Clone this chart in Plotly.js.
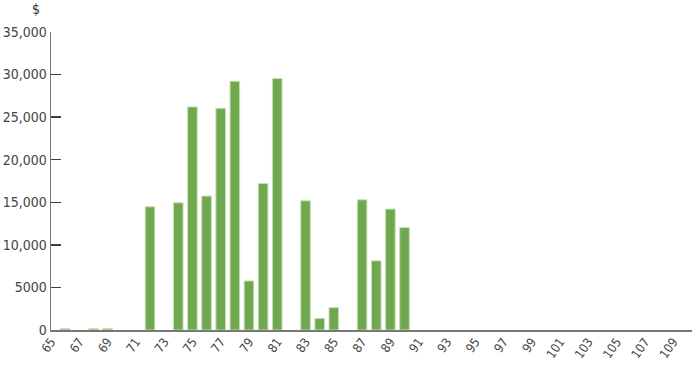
<!DOCTYPE html>
<html>
<head>
<meta charset="utf-8">
<script src="https://cdn.plot.ly/plotly-3.0.1.min.js"></script>
<style>html,body{margin:0;padding:0;background:#fff;}#chart{width:693px;height:365px;}</style>
</head>
<body>
<div id="chart"></div>
<script>
const ages = [66, 68, 69, 72, 74, 75, 76, 77, 78, 79, 80, 81, 83, 84, 85, 87, 88, 89, 90];
const amounts = [150, 150, 150, 14470, 14940, 26200, 15730, 26040, 29210, 5760, 17210, 29530, 15180, 1370, 2630, 15290, 8120, 14200, 12040];
const xTickVals = [65,67,69,71,73,75,77,79,81,83,85,87,89,91,93,95,97,99,101,103,105,107,109];
const yTickVals = [0, 5000, 10000, 15000, 20000, 25000, 30000, 35000];
const yTickText = ['0', '5000', '10,000', '15,000', '20,000', '25,000', '30,000', '35,000'];

const font = '"DejaVu Sans Condensed", "Liberation Sans", sans-serif';

Plotly.newPlot('chart', [{
  type: 'bar',
  x: ages,
  y: amounts,
  width: 0.68,
  marker: {color: '#70a84f', line: {color: '#c8e0b4', width: 1}},
  hoverinfo: 'x+y'
}], {
  width: 693, height: 365,
  margin: {l: 51, r: 1, t: 32, b: 35},
  paper_bgcolor: '#fff', plot_bgcolor: '#fff',
  showlegend: false,
  font: {family: font, size: 14, color: '#444'},
  xaxis: {
    range: [65, 110.33],
    tickmode: 'array', tickvals: xTickVals, ticktext: xTickVals.map(String),
    tickangle: -55,
    ticklabelstandoff: -2,
    ticks: '', showgrid: false, zeroline: false,
    showline: true, linecolor: '#777', linewidth: 1.5,
    tickfont: {family: font, size: 12.5, color: '#444'}
  },
  yaxis: {
    range: [0, 35000],
    tickmode: 'array', tickvals: yTickVals, ticktext: yTickText,
    ticks: 'inside', ticklen: 10, tickcolor: '#444', tickwidth: 1.5,
    showgrid: false, zeroline: false,
    showline: true, linecolor: '#777', linewidth: 1.5,
    tickfont: {family: font, size: 14, color: '#444'}
  },
  annotations: [{
    text: '$', xref: 'paper', yref: 'paper', x: 0, y: 1, xanchor: 'right', yanchor: 'bottom',
    xshift: -9, yshift: 13, showarrow: false,
    font: {family: font, size: 14, color: '#333333'}
  }]
}, {displayModeBar: false, staticPlot: true});
</script>
</body>
</html>
